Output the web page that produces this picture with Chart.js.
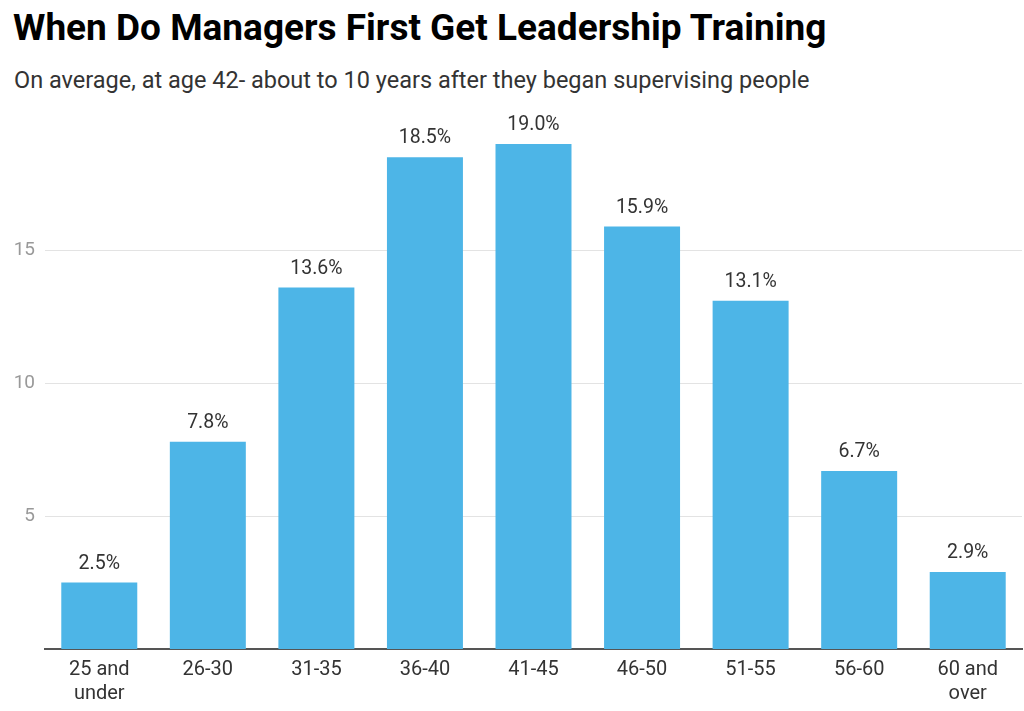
<!DOCTYPE html>
<html><head><meta charset="utf-8">
<script src="https://cdn.jsdelivr.net/npm/chart.js@4"></script>
<style>
html,body{margin:0;padding:0;background:#fff;width:1024px;height:711px;overflow:hidden;font-family:Roboto,sans-serif}
#title{position:absolute;left:13px;top:4px;font:700 37px Roboto;color:#000;white-space:nowrap;line-height:48px}
#sub{position:absolute;left:14px;top:65px;font:400 23.5px Roboto;color:#333;white-space:nowrap;line-height:30px}
#wrap{position:absolute;left:0;top:96px;width:1024px;height:615px}
</style></head><body>
<div id="title">When Do Managers First Get Leadership Training</div>
<div id="sub">On average, at age 42- about to 10 years after they began supervising people</div>
<div id="wrap"><canvas id="c" width="1024" height="615"></canvas></div>
<script>
const categories = [["25 and","under"],"26-30","31-35","36-40","41-45","46-50","51-55","56-60",["60 and","over"]];
const shares = [2.5,7.8,13.6,18.5,19.0,15.9,13.1,6.7,2.9];
const yTicks = [5,10,15];

const labelPlugin = {
  id:'barLabels',
  afterDatasetsDraw(chart){
    const ctx = chart.ctx;
    const meta = chart.getDatasetMeta(0);
    ctx.save();
    ctx.font = '400 19.5px Roboto';
    ctx.fillStyle = '#333';
    ctx.textAlign = 'center';
    ctx.textBaseline = 'bottom';
    meta.data.forEach((bar,i)=>{
      ctx.fillText(shares[i].toFixed(1)+'%', bar.x, bar.y-9);
    });
    ctx.restore();
  }
};

new Chart(document.getElementById('c'),{
  type:'bar',
  data:{labels:categories,datasets:[{data:shares,backgroundColor:'#4db5e7',borderWidth:0,categoryPercentage:0.7,barPercentage:1}]},
  options:{
    responsive:false,animation:false,
    layout:{padding:{top:10,right:2,left:0,bottom:0}},
    plugins:{legend:{display:false},tooltip:{enabled:false}},
    scales:{
      x:{
        grid:{display:false,drawTicks:false},
        border:{display:true,color:'#555',width:2},
        ticks:{color:'#333',font:{family:'Roboto',size:20,lineHeight:1.2},padding:9,maxRotation:0,autoSkip:false},
        afterFit(s){s.height=62;}
      },
      y:{
        min:0,max:20,
        afterBuildTicks(s){s.ticks = yTicks.map(v=>({value:v}));},
        grid:{color:'#e3e3e3',lineWidth:1,drawTicks:false},
        border:{display:false},
        ticks:{color:'#999',font:{family:'Roboto',size:19},padding:10},
        afterFit(s){s.width=45;}
      }
    }
  },
  plugins:[labelPlugin]
});
</script>
</body></html>
